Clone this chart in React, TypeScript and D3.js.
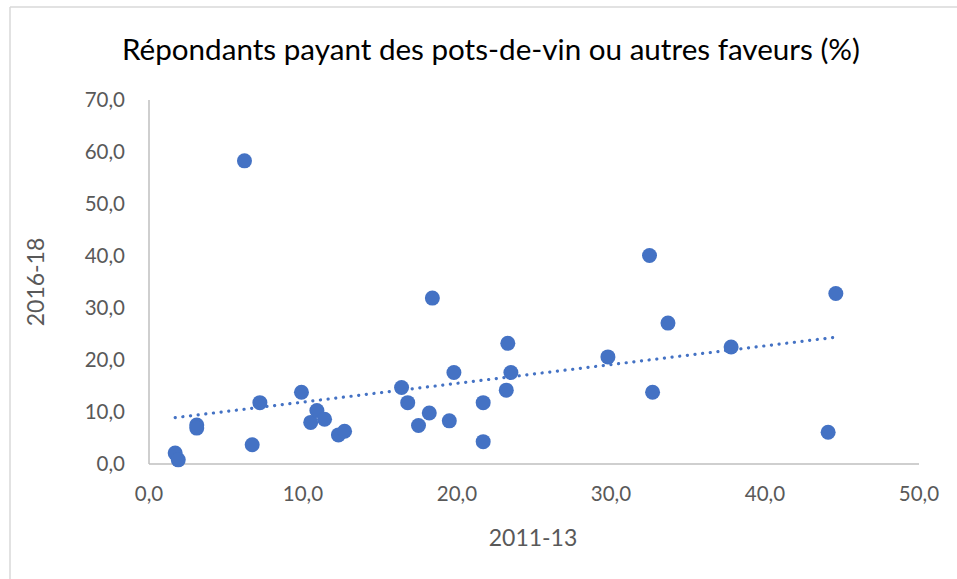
import React from "react";
import * as d3 from "d3";

// 2011-13 (x) vs 2016-18 (y), share of respondents paying bribes (%)
const xValues = [1.7, 1.9, 3.1, 3.1, 6.2, 6.7, 7.2, 9.9, 10.5, 10.9, 11.4, 12.3, 12.7, 16.4, 16.8, 17.5, 18.2, 18.4, 19.5, 19.8, 21.7, 21.7, 23.2, 23.3, 23.5, 29.8, 32.5, 32.7, 33.7, 37.8, 44.1, 44.6];
const yValues = [2.1, 0.8, 7.5, 6.9, 58.3, 3.7, 11.8, 13.8, 8.0, 10.3, 8.6, 5.6, 6.3, 14.7, 11.8, 7.4, 9.8, 31.9, 8.3, 17.6, 4.3, 11.8, 14.2, 23.2, 17.6, 20.6, 40.1, 13.8, 27.1, 22.5, 6.1, 32.8];

const xTicks = [0, 10, 20, 30, 40, 50];
const yTicks = [0, 10, 20, 30, 40, 50, 60, 70];

const title = "Répondants payant des pots-de-vin ou autres faveurs (%)";
const xTitle = "2011-13";
const yTitle = "2016-18";

const W = 957;
const H = 579;
const margin = { left: 149, right: 38, top: 100, bottom: 115 };
const FONT = "Lato, 'Open Sans', sans-serif";
const fmt = (v: number) => v.toFixed(1).replace(".", ",");

export default function App() {
  const x = d3.scaleLinear().domain([0, 50]).range([margin.left, W - margin.right]);
  const y = d3.scaleLinear().domain([0, 70]).range([H - margin.bottom, margin.top]);

  const points = xValues.map((v, i) => ({ x: v, y: yValues[i] }));

  // linear trendline (least squares) across the data range
  const mx = d3.mean(xValues) as number;
  const my = d3.mean(yValues) as number;
  const slope =
    d3.sum(points, (p) => (p.x - mx) * (p.y - my)) / d3.sum(points, (p) => (p.x - mx) ** 2);
  const intercept = my - slope * mx;
  const [x0, x1] = d3.extent(xValues) as [number, number];
  const trend = d3.line<number>()
    .x((d) => x(d))
    .y((d) => y(intercept + slope * d))([x0, x1]);

  return (
    <div style={{ position: "fixed", left: 0, top: 0 }}>
      <svg width={W} height={H} style={{ display: "block", background: "#fff" }}>
        {/* chart border */}
        <line x1={10} y1={7} x2={W} y2={7} stroke="#D9D9D9" strokeWidth={1.5} />
        <line x1={10} y1={7} x2={10} y2={H} stroke="#D9D9D9" strokeWidth={1.5} />

        <text x={491} y={60} textAnchor="middle" fontFamily={FONT} fontSize={29}
          textLength={738} lengthAdjust="spacingAndGlyphs" fill="#000">
          {title}
        </text>

        {/* axes */}
        <line x1={x(0)} x2={x(0)} y1={y(70)} y2={y(0)} stroke="#BFBFBF" strokeWidth={1.5} />
        <line x1={x(0)} x2={x(50)} y1={y(0)} y2={y(0)} stroke="#BFBFBF" strokeWidth={1.5} />

        {yTicks.map((t) => (
          <text key={"y" + t} x={125} y={y(t)} dy="0.35em" textAnchor="end"
            fontFamily={FONT} fontSize={20.5} fill="#595959">
            {fmt(t)}
          </text>
        ))}
        {xTicks.map((t) => (
          <text key={"x" + t} x={x(t)} y={494} dy="0.35em" textAnchor="middle"
            fontFamily={FONT} fontSize={20.5} fill="#595959">
            {fmt(t)}
          </text>
        ))}

        <text x={533} y={538} dy="0.35em" textAnchor="middle" fontFamily={FONT} fontSize={23} fill="#595959">
          {xTitle}
        </text>
        <text transform="translate(36,282) rotate(-90)" dy="0.35em" textAnchor="middle"
          fontFamily={FONT} fontSize={23} fill="#595959">
          {yTitle}
        </text>

        {points.map((p, i) => (
          <circle key={i} cx={x(p.x)} cy={y(p.y)} r={7.5} fill="#4472C4" />
        ))}

        <path d={trend ?? ""} fill="none" stroke="#4472C4" strokeWidth={3.2}
          strokeDasharray="0.1 7.6" strokeLinecap="round" />
      </svg>
    </div>
  );
}
